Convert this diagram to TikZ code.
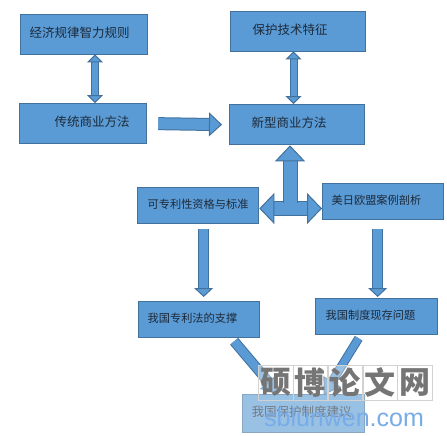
\documentclass[tikz,border=0pt]{standalone}
\usepackage{fontspec}
\usepackage{xcolor}
\usepackage{tikz}
\usetikzlibrary{arrows.meta,calc,positioning}
\setmainfont{Liberation Sans}
\newfontfamily\cjkfont{Noto Sans CJK SC}
\definecolor{BoxBlue}{HTML}{5B9BD5}
\definecolor{BoxLine}{HTML}{41719C}
\definecolor{BoxText}{HTML}{1C2A3A}
\definecolor{MarkGray}{HTML}{757575}
\definecolor{MarkGrid}{HTML}{D2D2D2}
\definecolor{MarkBlue}{HTML}{78ACE8}
\tikzset{
  >=Latex,
  bluebox/.style={draw=BoxLine,line width=1.3pt,fill=BoxBlue,inner sep=0pt,align=left,text depth=4pt,
    anchor=north west,text=BoxText,font=\fontsize{12.5}{14}\selectfont\cjkfont},
  blockflow/.style={line width=1pt,draw=BoxLine,double=BoxBlue,double distance=#1},
  twoway/.style={blockflow=6pt,{Triangle[fill=BoxBlue,line width=1pt,length=8pt,width=16pt]}-{Triangle[fill=BoxBlue,line width=1pt,length=8pt,width=16pt]}},
  downflow/.style={blockflow=8.5pt,-{Triangle[fill=BoxBlue,line width=1pt,length=9pt,width=19pt]}},
  markcell/.style={draw=MarkGrid,minimum width=34.4pt,minimum height=35pt,inner sep=0pt,
    text=MarkGray,font=\fontsize{31}{31}\selectfont\cjkfont\bfseries},
}
\begin{document}
\begin{tikzpicture}[x=1pt,y=-1pt]
  \useasboundingbox (0,0) rectangle (447,436);
  \fill[white] (0,0) rectangle (447,436);

  \node[bluebox,minimum width=127pt,minimum height=40pt,text width=127pt] (jingji) at (20,14) {\hspace*{9pt}经济规律智力规则};
  \node[bluebox,minimum width=127pt,minimum height=40pt,text width=127pt] (chuantong) at (19,103) {\hspace*{35pt}传统商业方法};
  \node[bluebox,minimum width=135pt,minimum height=40pt,text width=135pt] (baohu) at (230,11) {\hspace*{22pt}保护技术特征};
  \node[bluebox,minimum width=135pt,minimum height=40pt,text width=135pt] (xinxing) at (229,104) {\hspace*{22pt}新型商业方法};
  \node[bluebox,minimum width=121pt,minimum height=36pt,text width=121pt] (zige) at (137,187) {\hspace*{10pt}\fontsize{11.2}{14}\selectfont 可专利性资格与标准};
  \node[bluebox,minimum width=121pt,minimum height=36pt,text width=121pt] (anli) at (322,183) {\hspace*{9pt}\fontsize{11.2}{14}\selectfont 美日欧盟案例剖析};
  \node[bluebox,minimum width=121pt,minimum height=36pt,text width=121pt] (zhicheng) at (138,301) {\hspace*{9pt}\fontsize{11.2}{14}\selectfont 我国专利法的支撑};
  \node[bluebox,minimum width=122pt,minimum height=36pt,text width=122pt] (wenti) at (315,298) {\hspace*{10pt}\fontsize{11.2}{14}\selectfont 我国制度现存问题};
  \node[bluebox,minimum width=122pt,minimum height=38pt,text width=122pt] (jianyi) at (242,394) {\hspace*{9pt}我国保护制度建议};

  \coordinate (tee) at (290,208.5);
  \coordinate (jingjiend) at (95,54.5);
  \coordinate (baohuend) at (293.5,51.5);

  \draw[twoway] (jingjiend) -- (jingjiend |- chuantong.north);
  \draw[twoway] (baohuend) -- (baohuend |- xinxing.north);
  \draw[blockflow=11pt,-{Triangle[fill=BoxBlue,line width=1pt,length=13pt,width=24pt]}] ($(chuantong.east)+(11,0)$) -- ($(xinxing.west)+(-7,0)$);

  \draw[blockflow=13pt,{Triangle[fill=BoxBlue,line width=1pt,length=15pt,width=31pt]}-{Triangle[fill=BoxBlue,line width=1pt,length=15pt,width=31pt]}]
    (tee -| zige.east) -- (tee -| anli.west);
  \draw[blockflow=13pt,{Triangle[fill=BoxBlue,line width=1pt,length=16pt,width=30pt]}-] (tee |- xinxing.south) -- ($(tee)+(0,-6)$);

  \draw[downflow] ($(zige.south)+(5.5,5)$) -- ($(zhicheng.north)+(4.5,-4)$);
  \draw[downflow] ($(anli.south)+(-5.5,9)$) -- ($(wenti.north)+(1,-1)$);

  \draw[blockflow=8.5pt,-{Triangle[fill=BoxBlue,line width=1pt,length=16pt,width=22pt]}] ($(zhicheng.south)+(35,3)$) -- ($(jianyi.north)+(-25,0)$);
  \draw[blockflow=7pt,-{Triangle[fill=BoxBlue,line width=1pt,length=16pt,width=20pt]}] ($(wenti.south)+(-18,3)$) -- ($(jianyi.north)+(20,1)$);

  \fill[white,fill opacity=0.38] (258,365) rectangle (430,393);
  \fill[white,fill opacity=0.38] (241,393) rectangle (365,433);

  \node[markcell] (shuo) at (275.5,382.5) {硕};
  \node[markcell,right=0pt of shuo] (bo) {博};
  \node[markcell,right=0pt of bo] (lun) {论};
  \node[markcell,right=0pt of lun] (wen) {文};
  \node[markcell,right=0pt of wen] (wang) {网};
  \node[text=MarkBlue,font=\fontsize{25}{25}\selectfont,inner sep=0pt] (site) at (344,418) {sblunwen.com};
\end{tikzpicture}
\end{document}
